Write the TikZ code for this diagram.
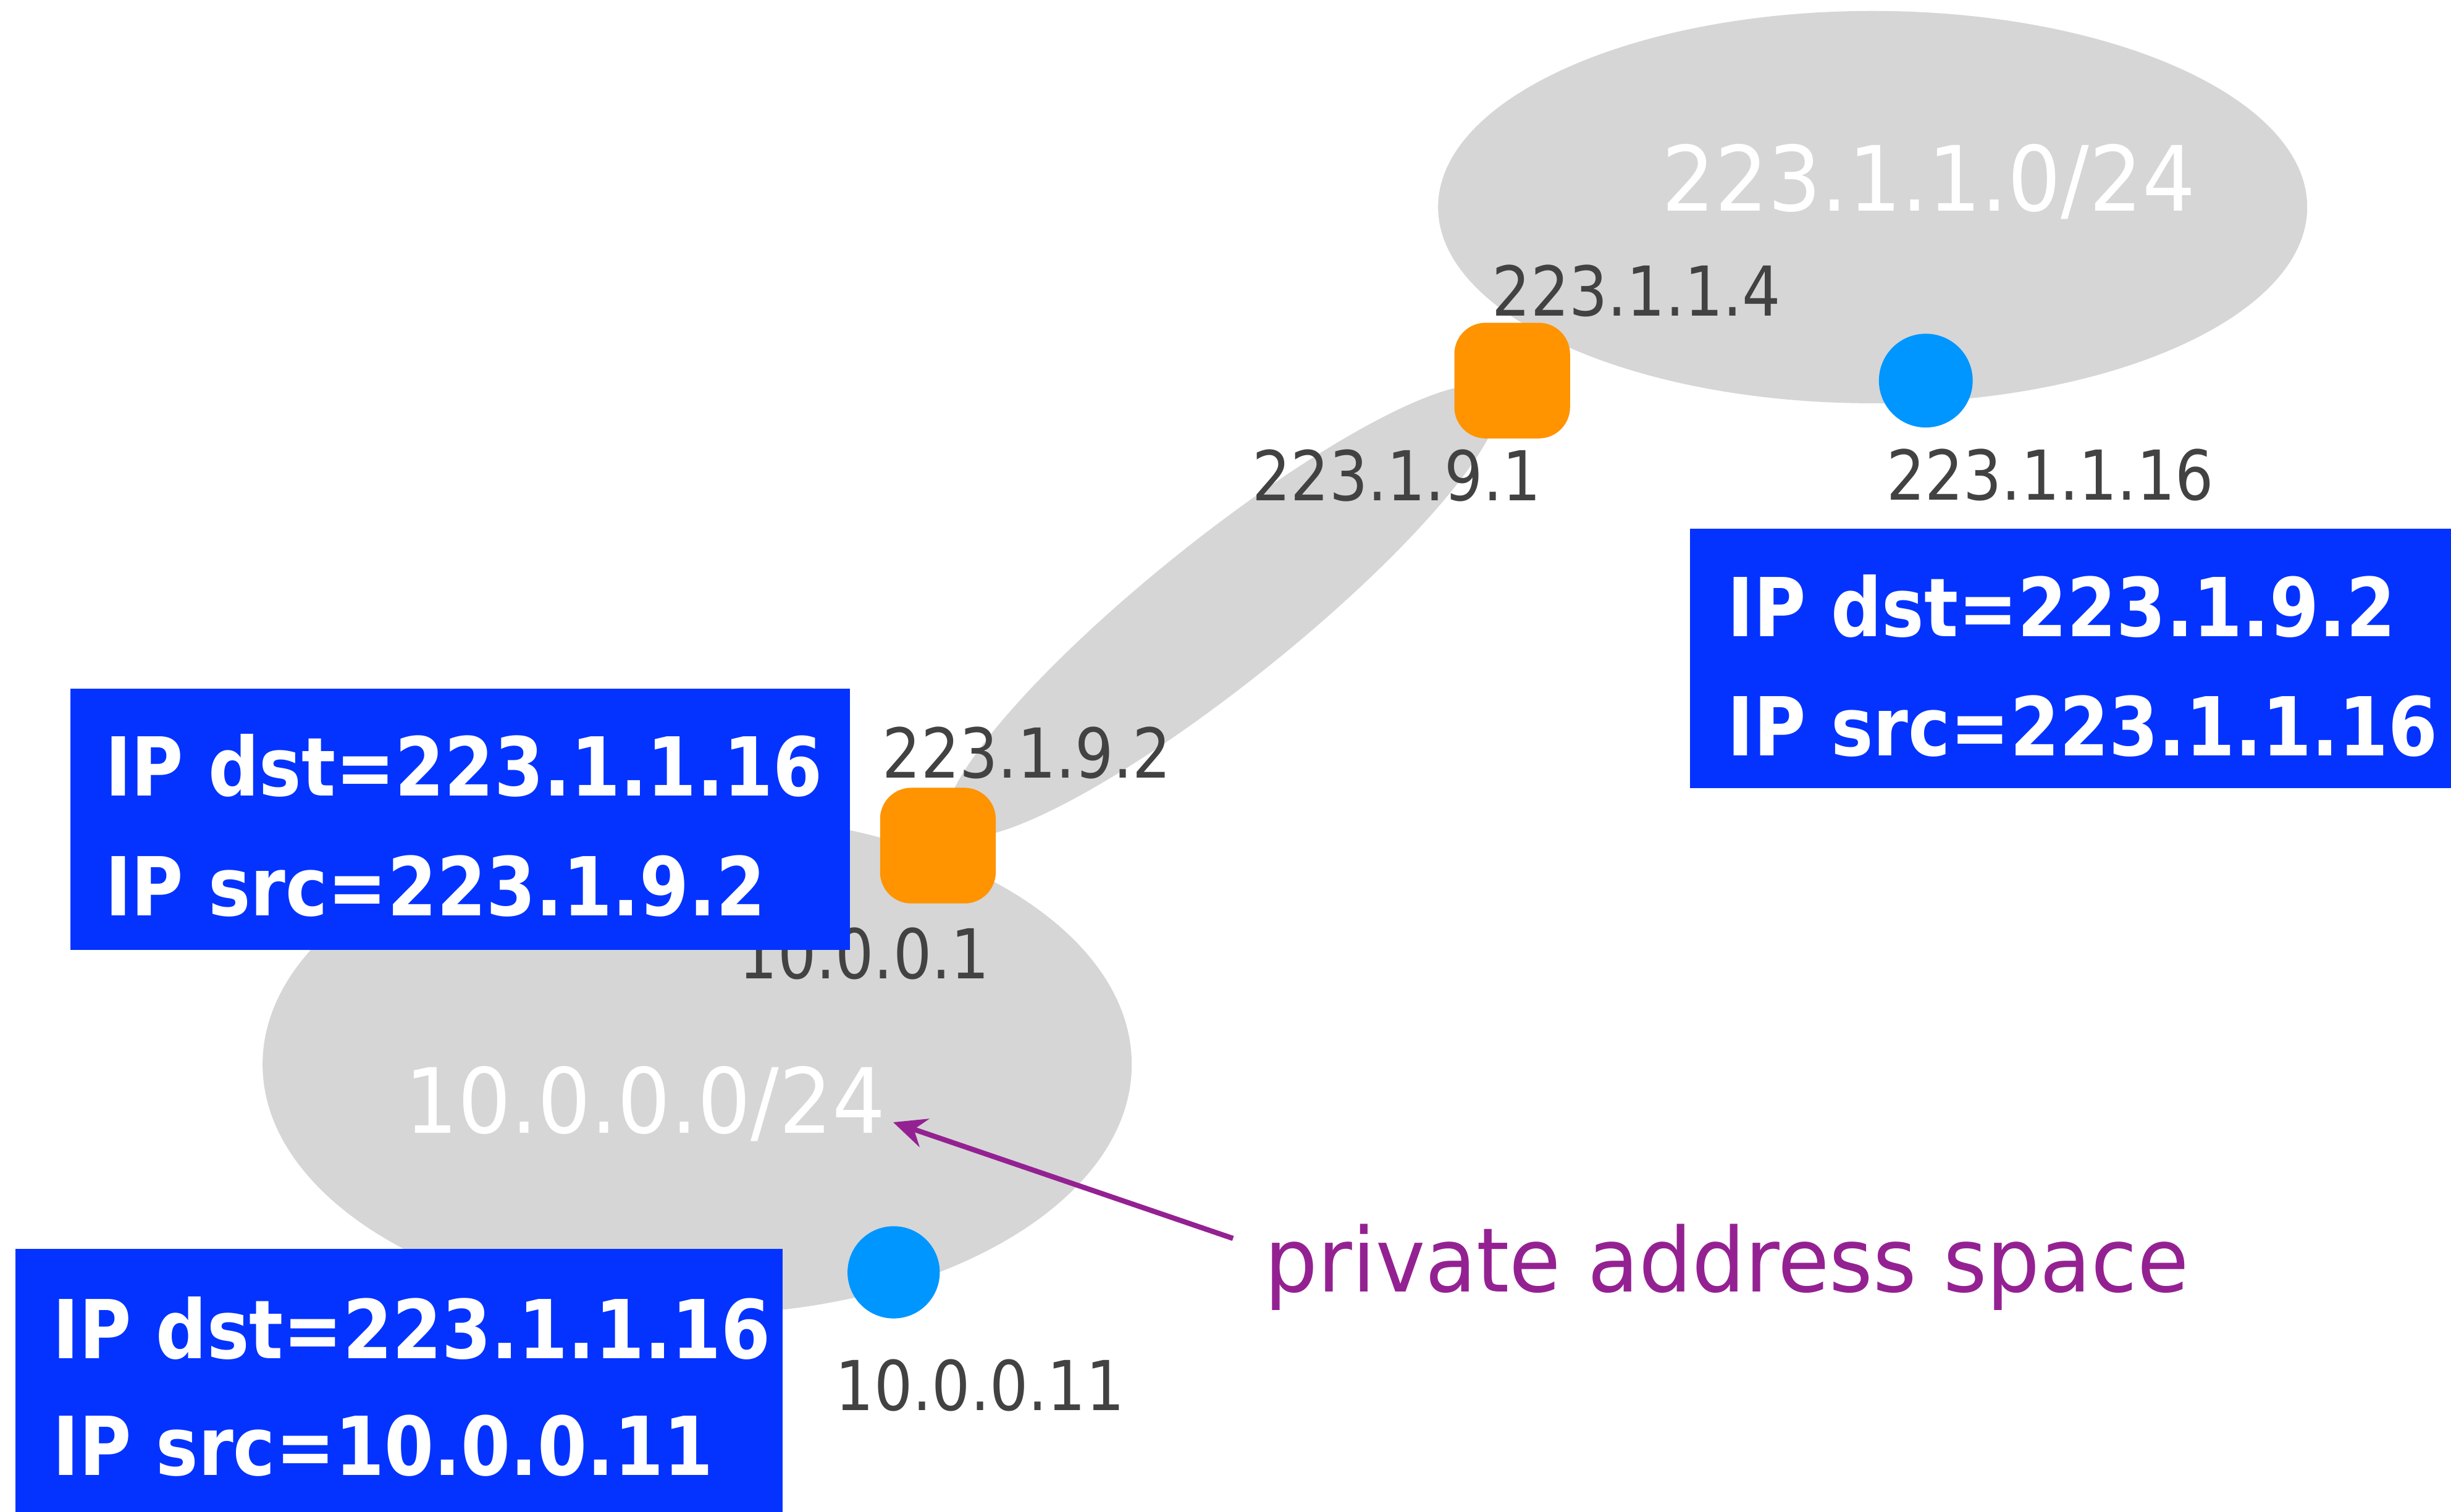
\documentclass[tikz,border=0pt]{standalone}
\usepackage{fontspec}
\usetikzlibrary{arrows.meta,shapes.geometric}

% Fonts
\newfontfamily\addrfont[FakeStretch=0.88]{DejaVu Sans}
\newfontfamily\netfont[FakeStretch=0.93]{DejaVu Sans}
\newfontfamily\hdrfont[FakeStretch=0.875]{DejaVu Sans}
\newfontfamily\notefont[FakeStretch=0.94]{DejaVu Sans}

% Colours
\definecolor{netgray}{RGB}{214,214,214}
\definecolor{routerorange}{RGB}{255,147,0}
\definecolor{hostblue}{RGB}{0,150,255}
\definecolor{boxblue}{RGB}{4,51,255}
\definecolor{addrgray}{RGB}{66,66,66}
\definecolor{notepurple}{RGB}{148,33,146}

\tikzset{
  subnetblob/.style={ellipse, fill=netgray, inner sep=0pt},
  router/.style={fill=routerorange, rounded corners=20pt, minimum size=74pt, inner sep=0pt},
  host/.style={circle, fill=hostblue, minimum size=60pt, inner sep=0pt},
  addr/.style={font=\addrfont\fontsize{44}{44}\selectfont, text=addrgray, inner sep=0pt, anchor=base},
  subnetlabel/.style={font=\netfont\fontsize{57.6}{58}\selectfont, text=white, inner sep=0pt, anchor=base},
  hdrbox/.style={fill=boxblue, inner sep=0pt, anchor=north west},
  hdrline/.style={font=\hdrfont\bfseries\fontsize{52}{52}\selectfont, text=white, inner sep=0pt, anchor=base west},
  notetext/.style={font=\notefont\fontsize{57}{57}\selectfont, text=notepurple, inner sep=0pt, anchor=base west},
  notearrow/.style={notepurple, line width=3.3pt, -{Stealth[length=21pt,width=19pt,inset=7pt]}}
}

\begin{document}
\begin{tikzpicture}[x=1pt,y=-1pt]
  \useasboundingbox (0,0) rectangle (1568,967);
  \fill[white] (0,0) rectangle (1568,967);

  % subnets and the router-to-router link
  \node[subnetblob, minimum width=556pt, minimum height=251pt] (netR) at (1198,132.5) {};
  \node[subnetblob, minimum width=556pt, minimum height=320pt] (netL) at (446,681) {};
  \node[subnetblob, minimum width=448pt, minimum height=92pt, rotate=38.7] (link) at (782,391) {};

  % subnet names
  \node[subnetlabel] (netRname) at (1234,135) {223.1.1.0/24};
  \node[subnetlabel] (netLname) at (412.7,724.8) {10.0.0.0/24};

  % interface addresses
  \node[addr] (a1) at (1047,202) {223.1.1.4};
  \node[addr] (a2) at (1311.5,320) {223.1.1.16};
  \node[addr] (a3) at (893.5,320.4) {223.1.9.1};
  \node[addr] (a4) at (657,497.8) {223.1.9.2};
  \node[addr] (a5) at (553,626) {10.0.0.1};
  \node[addr] (a6) at (627,902.5) {10.0.0.11};

  % routers and hosts
  \node[router] (rtrR) at (967.4,243.5) {};
  \node[router] (rtrL) at (600,541) {};
  \node[host] (hostR) at (1232,243.5) {};
  \node[host, minimum size=59pt] (hostL) at (571.7,814) {};

  % annotation arrow
  \coordinate (notetail) at (788.8,792.3);
  \coordinate (notetip) at (571.4,718);
  \draw[notearrow] (notetail) -- (notetip);

  % datagram headers
  \node[hdrbox, minimum width=487pt, minimum height=166pt] (boxA) at (1081,338) {};
  \node[hdrline] (boxA1) at (1105,407.3) {IP dst=223.1.9.2};
  \node[hdrline] (boxA2) at (1105,483.5) {IP src=223.1.1.16};

  \node[hdrbox, minimum width=498.7pt, minimum height=167.3pt] (boxB) at (45,440.3) {};
  \node[hdrline] (boxB1) at (67,509.3) {IP dst=223.1.1.16};
  \node[hdrline] (boxB2) at (67,585.7) {IP src=223.1.9.2};

  \node[hdrbox, minimum width=491pt, minimum height=168.3pt] (boxC) at (9.6,798.7) {};
  \node[hdrline] (boxC1) at (33.5,869) {IP dst=223.1.1.16};
  \node[hdrline] (boxC2) at (33.5,944) {IP src=10.0.0.11};

  % note
  \node[notetext] (note) at (809,826.5) {private address space};
\end{tikzpicture}
\end{document}
